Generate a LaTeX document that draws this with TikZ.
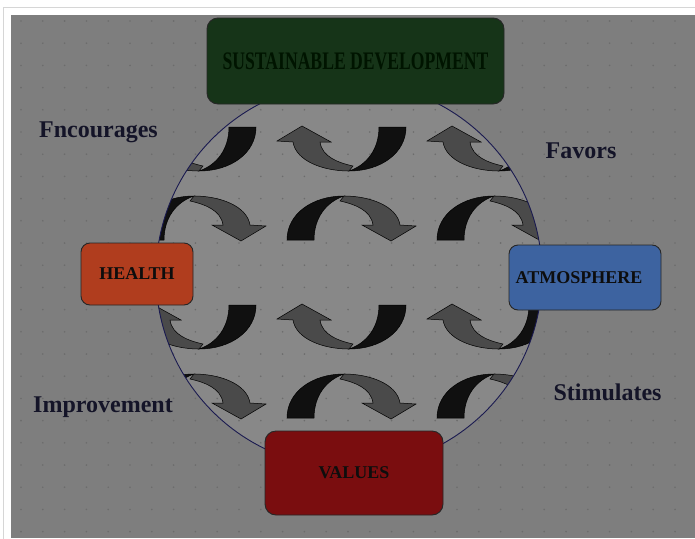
\documentclass[tikz,border=0pt]{standalone}
\usepackage{fontspec}
\setmainfont{Liberation Serif}
\definecolor{bgout}{HTML}{7E7E7E}
\definecolor{bgin}{HTML}{888888}
\definecolor{dotc}{HTML}{6C6C6C}
\definecolor{frame}{HTML}{D6D6D6}
\definecolor{sdgreen}{HTML}{163418}
\definecolor{healthc}{HTML}{B03D1E}
\definecolor{atmc}{HTML}{3D63A0}
\definecolor{valc}{HTML}{7A0D0F}
\definecolor{labc}{HTML}{141428}
\definecolor{ringc}{HTML}{1A1A50}
\definecolor{armblack}{HTML}{101010}
\definecolor{armgray}{HTML}{4A4A4A}
\begin{document}
\begin{tikzpicture}[x=1pt,y=-1pt,
  box/.style={draw=black!85, line width=0.9pt, rounded corners=9pt, inner sep=0pt,
    font=\fontsize{18}{20}\selectfont\bfseries, text=black!95},
  lab/.style={anchor=base, text=labc, font=\fontsize{24}{26}\selectfont\bfseries, inner sep=0pt},
  uarrow/.pic={
    \filldraw[fill=armblack, draw=black, line width=0.5pt]
      (30,-44) -- (57,-44) .. controls (57,-18) and (32,0) .. (0,0)
      .. controls (18,-6) and (30,-22) .. (30,-44) -- cycle;
    \filldraw[fill=armgray, draw=black, line width=0.5pt]
      (-72,-30) -- (-47,-45) -- (-18,-29) -- (-29,-29)
      .. controls (-27,-14) and (-10,-8) .. (4,-5) -- (0,0)
      .. controls (-26,0) and (-53,-10) .. (-56,-29) -- cycle;
  }
]
\useasboundingbox (0,0) rectangle (695,538);
% frame and background
\fill[white] (0,0) rectangle (695,538);
\draw[frame, line width=0.8pt] (3,7) rectangle (710,560);
\fill[bgout] (11,15) rectangle (695,538);
% circle interior
\fill[bgin] (349,275) circle (193pt);
% dotted grid
\begin{scope}
  \clip (11,15) rectangle (695,538);
  \foreach \i in {0,...,31} {
    \foreach \j in {0,...,23} {
      \fill[dotc] (21+21.8*\i, 21+22.2*\j) circle (0.9pt);
    }
  }
\end{scope}
% curved arrows clipped to the circle
\begin{scope}
  \clip (349,275) circle (193pt);
  \foreach \k in {-1,0,1} {
    \pic at (349+150*\k,171) {uarrow};
    \pic[rotate=180] at (344+150*\k,196) {uarrow};
    \pic at (349+150*\k,349) {uarrow};
    \pic[rotate=180] at (344+150*\k,374) {uarrow};
  }
\end{scope}
% ring
\node[circle, draw=ringc, line width=0.9pt, minimum size=386pt, inner sep=0pt] (ring) at (349,275) {};
% boxes
\node[box, fill=sdgreen, minimum width=297pt, minimum height=86pt, rounded corners=11pt, text=black!92!green] (sd) at (355.5,61) {\scalebox{0.98}[1.4]{SUSTAINABLE DEVELOPMENT}};
\node[box, fill=healthc, minimum width=112pt, minimum height=62pt] (health) at (137,274) {HEALTH};
\node[box, fill=atmc, minimum width=152pt, minimum height=65pt] (atm) at (585,277.5) {\hspace*{-12pt}ATMOSPHERE};
\node[box, fill=valc, minimum width=178pt, minimum height=84pt, rounded corners=11pt] (values) at (354,473) {VALUES};
% labels
\node[lab] (enc) at (98.5,137) {Fncourages};
\node[lab] (fav) at (581,158) {Favors};
\node[lab] (imp) at (103,412) {Improvement};
\node[lab] (sti) at (607.5,400) {Stimulates};
\end{tikzpicture}
\end{document}
